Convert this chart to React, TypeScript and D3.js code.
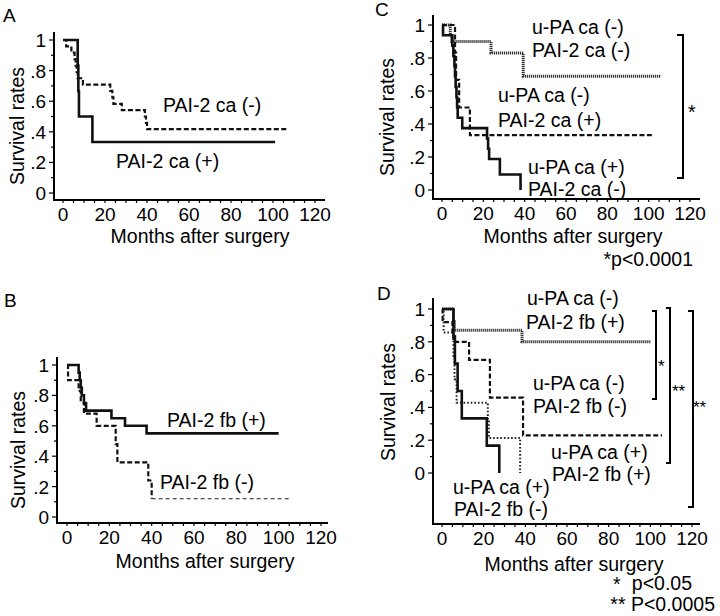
import * as d3 from "d3";
import React from "react";

const FONT = "'Liberation Sans', Arial, Helvetica, sans-serif";

// axis ticks
const xTickValues = [0, 20, 40, 60, 80, 100, 120];
const yTickValues = [0, 0.2, 0.4, 0.6, 0.8, 1];
const yTickLabels = ["0", ".2", ".4", ".6", ".8", "1"];

// Panel A
const aNegTimes = [0, 1.5, 4, 5.5, 6, 6.5, 7, 9.5, 22.5, 23.5, 24, 28, 39, 39.5, 40];
const aNegSurv = [1, 0.958, 0.917, 0.875, 0.833, 0.792, 0.75, 0.708, 0.667, 0.625, 0.583, 0.542, 0.5, 0.458, 0.417];
const aNegEnd = 107;
const aPosTimes = [0, 7, 7.3, 7.6, 14];
const aPosSurv = [1, 0.833, 0.667, 0.5, 0.333];
const aPosEnd = 101;

// Panel B
const bPosTimes = [0, 5.5, 6, 6.5, 7, 8, 9, 21, 27.4, 37.6];
const bPosSurv = [1, 0.95, 0.9, 0.85, 0.8, 0.75, 0.7, 0.65, 0.6, 0.55];
const bPosEnd = 100;
const bNegTimes = [0, 0.5, 5.5, 6.5, 8, 14, 23, 23.8, 38.4, 40];
const bNegSurv = [1, 0.9, 0.83, 0.76, 0.68, 0.6, 0.48, 0.36, 0.24, 0.12];
const bNegEnd = 106;

// Panel C
const cNegNegTimes = [0, 4, 4.7, 23.7, 39.3];
const cNegNegSurv = [1, 0.93, 0.9, 0.83, 0.69];
const cNegNegEnd = 106;
const cNegPosTimes = [0, 6.3, 6.8, 8.3, 13.5];
const cNegPosSurv = [1, 0.833, 0.667, 0.5, 0.333];
const cNegPosEnd = 101.5;
const cPosNegTimes = [0, 0.5, 5, 5.5, 6, 6.3, 6.6, 7, 7.3, 7.6, 9.8, 21.8, 22.3, 22.8, 28, 38];
const cPosNegSurv = [1, 0.9375, 0.875, 0.8125, 0.75, 0.6875, 0.625, 0.5625, 0.5, 0.4375, 0.375, 0.3125, 0.25, 0.1875, 0.094, 0];
const cPosNegEnd = 38;

// Panel D
const dNegPosTimes = [0, 5.5, 6, 38.4];
const dNegPosSurv = [1, 0.93, 0.87, 0.8];
const dNegPosEnd = 100;
const dNegNegTimes = [0, 0.3, 5, 5.5, 13, 23, 38.9];
const dNegNegSurv = [1, 0.92, 0.86, 0.8, 0.69, 0.46, 0.23];
const dNegNegEnd = 105.6;
const dPosPosTimes = [0, 0.8, 5.5, 6, 7, 22, 22.5, 37.5];
const dPosPosSurv = [1, 0.857, 0.714, 0.571, 0.429, 0.321, 0.214, 0];
const dPosPosEnd = 37.5;
const dPosNegTimes = [0, 5.5, 6.2, 7.5, 9.5, 21.5, 27.5];
const dPosNegSurv = [1, 0.833, 0.667, 0.5, 0.333, 0.167, 0];
const dPosNegEnd = 27.5;

const styles = {
  solid: { stroke: "#111", width: 2.6, dash: undefined },
  dashed: { stroke: "#111", width: 2.2, dash: "5 2.5" },
  dense: { stroke: "#333", width: 3, dash: "1.2 0.8" },
  dotted: { stroke: "#222", width: 2, dash: "1.6 2" },
  thin: { stroke: "#222", width: 1.1, dash: "4 3" },
};

type Curve = { times: number[]; surv: number[]; end: number; style: keyof typeof styles; thinAfter?: number };
type Txt = { t: string; x: number; y: number; size?: number; anchor?: string };

const panels = [
  {
    x: [63, 315], y: [193, 40], yAxisX: 54, xAxisY: 200, yTop: 32, xRight: 325,
    letter: { t: "A", x: 3, y: 22 }, ylab: [17, 126], xlab: [200, 243],
    curves: [
      { times: aNegTimes, surv: aNegSurv, end: aNegEnd, style: "dashed" },
      { times: aPosTimes, surv: aPosSurv, end: aPosEnd, style: "solid" },
    ] as Curve[],
    texts: [
      { t: "PAI-2 ca (-)", x: 163, y: 112 },
      { t: "PAI-2 ca (+)", x: 116, y: 168 },
    ] as Txt[],
    brackets: [] as number[][],
  },
  {
    x: [67, 321], y: [517, 365], yAxisX: 57, xAxisY: 523, yTop: 357, xRight: 328,
    letter: { t: "B", x: 4, y: 307 }, ylab: [18, 450], xlab: [205, 568],
    curves: [
      { times: bNegTimes, surv: bNegSurv, end: bNegEnd, style: "dashed", thinAfter: 40 },
      { times: bPosTimes, surv: bPosSurv, end: bPosEnd, style: "solid" },
    ] as Curve[],
    texts: [
      { t: "PAI-2 fb (+)", x: 167, y: 427 },
      { t: "PAI-2 fb (-)", x: 160, y: 489 },
    ] as Txt[],
    brackets: [] as number[][],
  },
  {
    x: [442, 690], y: [190, 25], yAxisX: 433, xAxisY: 199, yTop: 15, xRight: 700,
    letter: { t: "C", x: 375, y: 16 }, ylab: [387, 117], xlab: [573, 243],
    curves: [
      { times: cNegNegTimes, surv: cNegNegSurv, end: cNegNegEnd, style: "dense" },
      { times: cNegPosTimes, surv: cNegPosSurv, end: cNegPosEnd, style: "dashed" },
      { times: cPosNegTimes, surv: cPosNegSurv, end: cPosNegEnd, style: "solid" },
    ] as Curve[],
    texts: [
      { t: "u-PA ca (-)", x: 532, y: 34 },
      { t: "PAI-2 ca (-)", x: 532, y: 57 },
      { t: "u-PA ca (-)", x: 498, y: 102 },
      { t: "PAI-2 ca (+)", x: 498, y: 127 },
      { t: "u-PA ca (+)", x: 528, y: 174 },
      { t: "PAI-2 ca (-)", x: 528, y: 196 },
      { t: "*", x: 688, y: 119 },
      { t: "*p<0.0001", x: 693, y: 266, anchor: "end" },
    ] as Txt[],
    brackets: [[677, 683, 35, 178]],
  },
  {
    x: [442, 692], y: [473, 309], yAxisX: 433, xAxisY: 524, yTop: 298, xRight: 700,
    letter: { t: "D", x: 377, y: 300 }, ylab: [388, 402], xlab: [574, 571],
    curves: [
      { times: dNegPosTimes, surv: dNegPosSurv, end: dNegPosEnd, style: "dense" },
      { times: dNegNegTimes, surv: dNegNegSurv, end: dNegNegEnd, style: "dashed" },
      { times: dPosPosTimes, surv: dPosPosSurv, end: dPosPosEnd, style: "dotted" },
      { times: dPosNegTimes, surv: dPosNegSurv, end: dPosNegEnd, style: "solid" },
    ] as Curve[],
    texts: [
      { t: "u-PA ca (-)", x: 527, y: 305 },
      { t: "PAI-2 fb (+)", x: 526, y: 329 },
      { t: "u-PA ca (-)", x: 533, y: 390 },
      { t: "PAI-2 fb (-)", x: 533, y: 413 },
      { t: "u-PA ca (+)", x: 551, y: 459 },
      { t: "PAI-2 fb (+)", x: 552, y: 481 },
      { t: "u-PA ca (+)", x: 453, y: 494 },
      { t: "PAI-2 fb (-)", x: 454, y: 516 },
      { t: "*", x: 658, y: 372, size: 17 },
      { t: "**", x: 672, y: 397, size: 17 },
      { t: "**", x: 693, y: 413, size: 17 },
      { t: "*", x: 613, y: 591 },
      { t: "p<0.05", x: 692, y: 590, anchor: "end" },
      { t: "** P<0.0005", x: 715, y: 611, anchor: "end" },
    ] as Txt[],
    brackets: [[652, 656, 311, 399], [666, 670, 308, 463], [688, 693, 311, 507]],
  },
];

function curvePaths(c: Curve, xs: any, ys: any) {
  const line = d3.line<number[]>().x((d) => xs(d[0])).y((d) => ys(d[1])).curve(d3.curveStepAfter);
  const pts = c.times.map((t, i) => [t, c.surv[i]]);
  const last = c.surv[c.surv.length - 1];
  const out: { d: string; style: keyof typeof styles }[] = [];
  if (c.thinAfter !== undefined) {
    out.push({ d: line(pts.filter((p) => p[0] <= c.thinAfter!)) || "", style: c.style });
    out.push({ d: line([[c.thinAfter, last], [c.end, last]]) || "", style: "thin" });
  } else {
    if (c.end > c.times[c.times.length - 1]) pts.push([c.end, last]);
    out.push({ d: line(pts) || "", style: c.style });
  }
  return out;
}

function Panel({ p }: { p: (typeof panels)[number] }) {
  const xs = d3.scaleLinear().domain([0, 120]).range(p.x);
  const ys = d3.scaleLinear().domain([0, 1]).range(p.y);
  const xMinor = d3.range(0, 121, 5);
  const yMinor = d3.range(0, 1.01, 0.1);
  return (
    <g>
      {/* axes */}
      <line x1={p.yAxisX} x2={p.yAxisX} y1={p.yTop} y2={p.xAxisY + 1} stroke="#000" strokeWidth={2} />
      <line x1={p.yAxisX - 1} x2={p.xRight} y1={p.xAxisY} y2={p.xAxisY} stroke="#000" strokeWidth={2} />
      {xMinor.map((v) => (
        <line key={"xm" + v} x1={xs(v)} x2={xs(v)} y1={p.xAxisY} y2={p.xAxisY + 3} stroke="#000" strokeWidth={1.2} />
      ))}
      {yMinor.map((v, i) => (
        <line key={"ym" + i} x1={p.yAxisX - (i % 2 === 0 ? 5 : 3)} x2={p.yAxisX} y1={ys(v)} y2={ys(v)} stroke="#000" strokeWidth={1.2} />
      ))}
      {xTickValues.map((v) => (
        <text key={"xt" + v} x={xs(v)} y={p.xAxisY + 21} textAnchor="middle" fontSize={19} fontFamily={FONT}>
          {v}
        </text>
      ))}
      {yTickValues.map((v, i) => (
        <text key={"yt" + v} x={p.yAxisX - 8} y={ys(v) + 7} textAnchor="end" fontSize={19} fontFamily={FONT}>
          {yTickLabels[i]}
        </text>
      ))}
      <text transform={`translate(${p.ylab[0] + 7},${p.ylab[1]}) rotate(-90)`} textAnchor="middle" fontSize={19.5} fontFamily={FONT}>
        Survival rates
      </text>
      <text x={p.xlab[0]} y={p.xlab[1]} textAnchor="middle" fontSize={19.5} fontFamily={FONT}>
        Months after surgery
      </text>
      <text x={p.letter.x} y={p.letter.y} fontSize={19} fontFamily={FONT}>
        {p.letter.t}
      </text>
      {/* curves */}
      {p.curves.flatMap((c, i) =>
        curvePaths(c, xs, ys).map((s, j) => (
          <path key={`c${i}-${j}`} d={s.d} fill="none" stroke={styles[s.style].stroke}
            strokeWidth={styles[s.style].width} strokeDasharray={styles[s.style].dash} />
        ))
      )}
      {p.brackets.map((b, i) => (
        <path key={"b" + i} d={`M${b[0]},${b[2]}H${b[1]}V${b[3]}H${b[0]}`} fill="none" stroke="#000" strokeWidth={2} />
      ))}
      {p.texts.map((t, i) => (
        <text key={"t" + i} x={t.x} y={t.y} fontSize={t.size || 19.5} fontFamily={FONT} textAnchor={t.anchor || "start"}>
          {t.t}
        </text>
      ))}
    </g>
  );
}

export default function App() {
  return (
    <div style={{ position: "absolute", left: 0, top: 0 }}>
      <svg width={720} height={616} style={{ display: "block", background: "#fff" }}>
        {panels.map((p, i) => (
          <Panel key={i} p={p} />
        ))}
      </svg>
    </div>
  );
}
